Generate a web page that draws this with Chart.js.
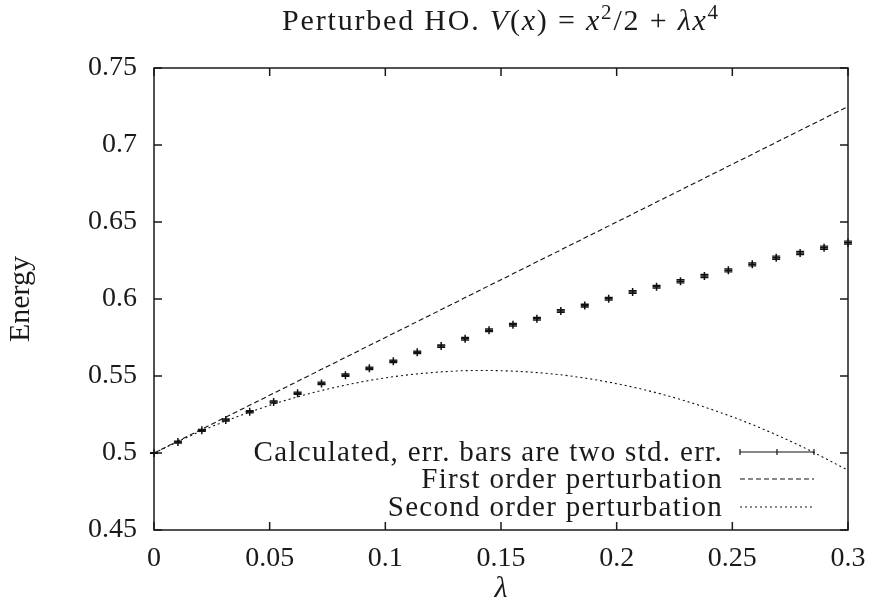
<!DOCTYPE html>
<html>
<head>
<meta charset="utf-8">
<script src="https://cdn.jsdelivr.net/npm/chart.js@4.4.1/dist/chart.umd.min.js"></script>
<style>
    html, body { margin: 0; padding: 0; background: #fff; overflow: hidden; }
    #wrap { position: relative; width: 873px; height: 607px; }
    #title {
        position: absolute; left: 0; width: 1002px; top: 3px;
        text-align: center; font-family: "Liberation Serif", serif;
        font-size: 30px; letter-spacing: 1.8px; color: #1a1a1a; white-space: nowrap;
    }
    #title sup { font-size: 21px; vertical-align: 11px; line-height: 0; }
</style>
</head>
<body>
<div id="wrap">
    <div id="title">Perturbed HO. <i>V</i>(<i>x</i>) = <i>x</i><sup>2</sup>/2 + <i>λx</i><sup>4</sup></div>
    <canvas id="chart"></canvas>
</div>
<script>
// Data
const lambdaCalc = [0, 0.01034, 0.02069, 0.03103, 0.04138, 0.05172, 0.06207, 0.07241, 0.08276, 0.0931,
    0.10345, 0.11379, 0.12414, 0.13448, 0.14483, 0.15517, 0.16552, 0.17586, 0.18621, 0.19655,
    0.2069, 0.21724, 0.22759, 0.23793, 0.24828, 0.25862, 0.26897, 0.27931, 0.28966, 0.3];
const energyCalc = [0.5000, 0.5071, 0.5147, 0.5214, 0.5268, 0.5331, 0.5388, 0.5452, 0.5505, 0.5550,
    0.5595, 0.5654, 0.5694, 0.5742, 0.5797, 0.5833, 0.5872, 0.5922, 0.5957, 0.6002,
    0.6045, 0.6080, 0.6115, 0.6149, 0.6186, 0.6225, 0.6268, 0.6299, 0.6333, 0.6366];
const energyErr = [0.0002, 0.0006, 0.0006, 0.0007, 0.0007, 0.0007, 0.0007, 0.0008, 0.0008, 0.0008,
    0.0008, 0.0008, 0.0008, 0.0009, 0.0009, 0.0009, 0.0009, 0.0009, 0.0009, 0.0009,
    0.0009, 0.0009, 0.0010, 0.0010, 0.0010, 0.0010, 0.0010, 0.0010, 0.0010, 0.0010];

const lambdaCurve = [0, 0.02, 0.04, 0.06, 0.08, 0.1, 0.12, 0.14, 0.16, 0.18, 0.2, 0.22, 0.24, 0.26, 0.28, 0.3];
const energyFirst = [0.5, 0.515, 0.53, 0.545, 0.56, 0.575, 0.59, 0.605, 0.62, 0.635, 0.65, 0.665, 0.68, 0.695, 0.71, 0.725];
const energySecond = [0.5, 0.514, 0.5258, 0.5356, 0.5432, 0.5488, 0.5522, 0.5536, 0.5528, 0.55, 0.545, 0.538, 0.5288, 0.5176, 0.5042, 0.4888];

const xTicks = [0, 0.05, 0.1, 0.15, 0.2, 0.25, 0.3];
const xTickLabels = ["0", "0.05", "0.1", "0.15", "0.2", "0.25", "0.3"];
const yTicks = [0.45, 0.5, 0.55, 0.6, 0.65, 0.7, 0.75];
const yTickLabels = ["0.45", "0.5", "0.55", "0.6", "0.65", "0.7", "0.75"];

const seriesLabels = ["Calculated, err. bars are two std. err.", "First order perturbation", "Second order perturbation"];

// Style
const FONT = "Liberation Serif";
const INK = "#1a1a1a";

// Build
const toPoints = (xs, ys) => xs.map((x, i) => ({x: x, y: ys[i]}));

// Plugin: error bars, inward ticks, frame, key
const gnuplotLook = {
    id: "gnuplotLook",
    afterDatasetsDraw(chart) {
        let ctx = chart.ctx;
        let a = chart.chartArea;
        let xs = chart.scales.x;
        let ys = chart.scales.y;
        ctx.save();

        // error bars
        ctx.strokeStyle = "#111";
        ctx.lineWidth = 1.3;
        lambdaCalc.forEach((l, i) => {
            let px = xs.getPixelForValue(l);
            let top = ys.getPixelForValue(energyCalc[i] + energyErr[i]);
            let bot = ys.getPixelForValue(energyCalc[i] - energyErr[i]);
            ctx.beginPath();
            ctx.moveTo(px, top); ctx.lineTo(px, bot);
            ctx.moveTo(px - 4, top); ctx.lineTo(px + 4, top);
            ctx.moveTo(px - 4, bot); ctx.lineTo(px + 4, bot);
            ctx.stroke();
        });

        // frame
        ctx.strokeStyle = INK;
        ctx.lineWidth = 1.5;
        ctx.strokeRect(a.left, a.top, a.right - a.left, a.bottom - a.top);

        // inward ticks on all four sides
        ctx.beginPath();
        xTicks.forEach(t => {
            let px = xs.getPixelForValue(t);
            ctx.moveTo(px, a.bottom); ctx.lineTo(px, a.bottom - 8);
            ctx.moveTo(px, a.top); ctx.lineTo(px, a.top + 8);
        });
        yTicks.forEach(t => {
            let py = ys.getPixelForValue(t);
            ctx.moveTo(a.left, py); ctx.lineTo(a.left + 8, py);
            ctx.moveTo(a.right, py); ctx.lineTo(a.right - 8, py);
        });
        ctx.stroke();

        // key (bottom right, text right aligned, sample to the right)
        let textRight = a.right - 125;
        let sx0 = a.right - 108;
        let sx1 = a.right - 34;
        let rowY = [a.bottom - 78, a.bottom - 51, a.bottom - 23];
        ctx.font = "29px '" + FONT + "'";
        ctx.letterSpacing = "1.3px";
        ctx.fillStyle = INK;
        ctx.textAlign = "right";
        ctx.textBaseline = "middle";
        seriesLabels.forEach((s, i) => {
            ctx.fillText(s, textRight, rowY[i] + 1);
        });
        ctx.strokeStyle = "#111";
        ctx.lineWidth = 1.2;
        // calculated sample
        ctx.beginPath();
        ctx.moveTo(sx0, rowY[0]); ctx.lineTo(sx1, rowY[0]);
        [sx0, (sx0 + sx1) / 2, sx1].forEach(x => {
            ctx.moveTo(x, rowY[0] - 3); ctx.lineTo(x, rowY[0] + 3);
        });
        ctx.stroke();
        // first order sample
        ctx.setLineDash([5, 3]);
        ctx.beginPath();
        ctx.moveTo(sx0, rowY[1]); ctx.lineTo(sx1, rowY[1]);
        ctx.stroke();
        // second order sample
        ctx.setLineDash([2, 3]);
        ctx.beginPath();
        ctx.moveTo(sx0, rowY[2]); ctx.lineTo(sx1, rowY[2]);
        ctx.stroke();
        ctx.restore();
    }
};

// Chart
let chartElement = document.querySelector("#chart");
new Chart(chartElement, {
    type: "scatter",
    data: {
        datasets: [
            {
                label: seriesLabels[0],
                data: toPoints(lambdaCalc, energyCalc),
                showLine: false,
                pointStyle: "cross",
                pointRadius: 4,
                borderColor: "#111",
                borderWidth: 1.5,
                clip: false
            },
            {
                label: seriesLabels[1],
                data: toPoints(lambdaCurve, energyFirst),
                showLine: true,
                pointRadius: 0,
                borderColor: "#111",
                borderWidth: 1.1,
                borderDash: [5, 3]
            },
            {
                label: seriesLabels[2],
                data: toPoints(lambdaCurve, energySecond),
                showLine: true,
                pointRadius: 0,
                borderColor: "#111",
                borderWidth: 1.1,
                borderDash: [2, 3],
                cubicInterpolationMode: "monotone"
            }
        ]
    },
    options: {
        responsive: true,
        maintainAspectRatio: false,
        animation: false,
        layout: {padding: {top: 68, right: 25, left: 0, bottom: 0}},
        plugins: {
            legend: {display: false},
            tooltip: {enabled: false}
        },
        scales: {
            x: {
                type: "linear",
                min: 0,
                max: 0.3,
                afterFit: (scale) => {
                    scale.height = 77;
                    scale.paddingLeft = 0;
                    scale.paddingRight = 0;
                },
                afterBuildTicks: (scale) => { scale.ticks = xTicks.map(v => ({value: v})); },
                grid: {display: false, drawTicks: false},
                border: {display: false},
                ticks: {
                    padding: 12,
                    color: INK,
                    font: {family: FONT, size: 28},
                    maxRotation: 0,
                    callback: (v) => xTickLabels[xTicks.indexOf(v)]
                },
                title: {
                    display: true,
                    text: "λ",
                    color: INK,
                    font: {family: FONT, size: 30, style: "italic"},
                    padding: {top: 0, bottom: 0}
                }
            },
            y: {
                type: "linear",
                min: 0.45,
                max: 0.75,
                afterFit: (scale) => { scale.width = 154; },
                afterBuildTicks: (scale) => { scale.ticks = yTicks.map(v => ({value: v})); },
                grid: {display: false, drawTicks: false},
                border: {display: false},
                ticks: {
                    padding: 17,
                    color: INK,
                    font: {family: FONT, size: 28},
                    callback: (v) => yTickLabels[yTicks.indexOf(v)]
                },
                title: {
                    display: true,
                    text: "Energy",
                    color: INK,
                    font: {family: FONT, size: 30},
                    padding: {top: 3, bottom: 0}
                }
            }
        }
    },
    plugins: [gnuplotLook]
});
</script>
</body>
</html>
